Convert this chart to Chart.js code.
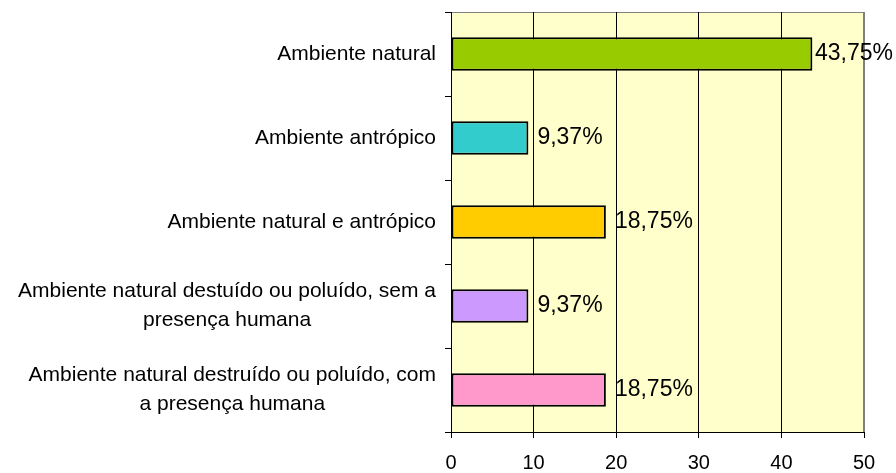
<!DOCTYPE html>
<html>
<head>
<meta charset="utf-8">
<script src="https://cdn.jsdelivr.net/npm/chart.js@4/dist/chart.umd.min.js"></script>
<style>
  html, body { margin: 0; padding: 0; background: #fff; }
  #wrap { width: 896px; height: 473px; }
</style>
</head>
<body>
<div id="wrap"><canvas id="barChart"></canvas></div>
<script>
var categories = [
    'Ambiente natural',
    'Ambiente antrópico',
    'Ambiente natural e antrópico',
    ['Ambiente natural destuído ou poluído, sem a', 'presença humana'],
    ['Ambiente natural destruído ou poluído, com', 'a presença humana']
];
var values = [43.75, 9.37, 18.75, 9.37, 18.75];
var barColors = ['#99CC00', '#33CCCC', '#FFCC00', '#CC99FF', '#FF99CC'];
var xTicks = [0, 10, 20, 30, 40, 50];

var FONT = '"Liberation Sans", Arial, sans-serif';

// 플롯 배경 + 회색 테두리
var plotBg = {
    id: 'plotBg',
    beforeDraw: function (chart) {
        var a = chart.chartArea, ctx = chart.ctx;
        ctx.save();
        ctx.fillStyle = '#FFFFCC';
        ctx.fillRect(a.left, a.top, a.right - a.left, a.bottom - a.top);
        ctx.strokeStyle = '#808080';
        ctx.lineWidth = 1;
        ctx.strokeRect(a.left + 0.5, a.top + 0.5, a.right - a.left - 1, a.bottom - a.top);
        ctx.restore();
    }
};

// 왼쪽 카테고리 라벨 (여러 줄은 가운데 정렬)
var catLabels = {
    id: 'catLabels',
    afterDraw: function (chart) {
        var ctx = chart.ctx, y = chart.scales.y;
        ctx.save();
        ctx.font = '21px ' + FONT;
        ctx.fillStyle = '#000';
        ctx.textBaseline = 'middle';
        ctx.textAlign = 'center';
        var right = 436, lh = 29;
        categories.forEach(function (lab, i) {
            var lines = Array.isArray(lab) ? lab : [lab];
            var w = 0;
            lines.forEach(function (l) { w = Math.max(w, ctx.measureText(l).width); });
            var cx = right - w / 2;
            var cy = y.getPixelForValue(i) - (lines.length - 1) * lh / 2;
            lines.forEach(function (l, k) { ctx.fillText(l, cx, cy + k * lh); });
        });
        ctx.restore();
    }
};

// 막대 끝의 값 라벨
var valueLabels = {
    id: 'valueLabels',
    afterDatasetsDraw: function (chart) {
        var ctx = chart.ctx;
        var meta = chart.getDatasetMeta(0);
        ctx.save();
        ctx.font = '23px ' + FONT;
        ctx.fillStyle = '#000';
        ctx.textBaseline = 'middle';
        ctx.textAlign = 'left';
        meta.data.forEach(function (bar, i) {
            var txt = values[i].toFixed(2).replace('.', ',') + '%';
            var tw = ctx.measureText(txt).width;
            var x = Math.min(bar.x + 9, chart.width - 3 - tw);
            ctx.fillText(txt, x, bar.y);
        });
        ctx.restore();
    }
};

var canvas = document.getElementById('barChart');
var myChart = new Chart(canvas, {
    type: 'bar',
    data: {
        labels: categories,
        datasets: [{
            data: values,
            backgroundColor: barColors,
            borderColor: '#000000',
            borderWidth: 2,
            borderSkipped: false,
            barPercentage: 0.4,
            categoryPercentage: 1
        }]
    },
    options: {
        indexAxis: 'y',
        responsive: true,
        maintainAspectRatio: false,
        animation: false,
        layout: { padding: { top: 12, right: 32, left: 0, bottom: 0 } },
        plugins: {
            legend: { display: false },
            tooltip: { enabled: false }
        },
        scales: {
            x: {
                min: 0,
                max: 50,
                afterBuildTicks: function (s) { s.ticks = xTicks.map(function (v) { return { value: v }; }); },
                afterFit: function (s) { s.height = 41; },
                ticks: { color: '#000', font: { family: FONT, size: 20 }, padding: 13 },
                grid: {
                    color: function (c) { return c.tick && c.tick.value === 50 ? '#808080' : '#000'; },
                    tickColor: '#000',
                    tickLength: 6,
                    lineWidth: 1
                },
                border: { color: '#000', width: 1 }
            },
            y: {
                ticks: { display: false },
                afterFit: function (s) { s.width = 451; },
                grid: {
                    offset: true,
                    drawOnChartArea: false,
                    drawTicks: true,
                    tickLength: 6,
                    color: '#000'
                },
                border: { color: '#000', width: 1 }
            }
        }
    },
    plugins: [plotBg, catLabels, valueLabels]
});
</script>
</body>
</html>
